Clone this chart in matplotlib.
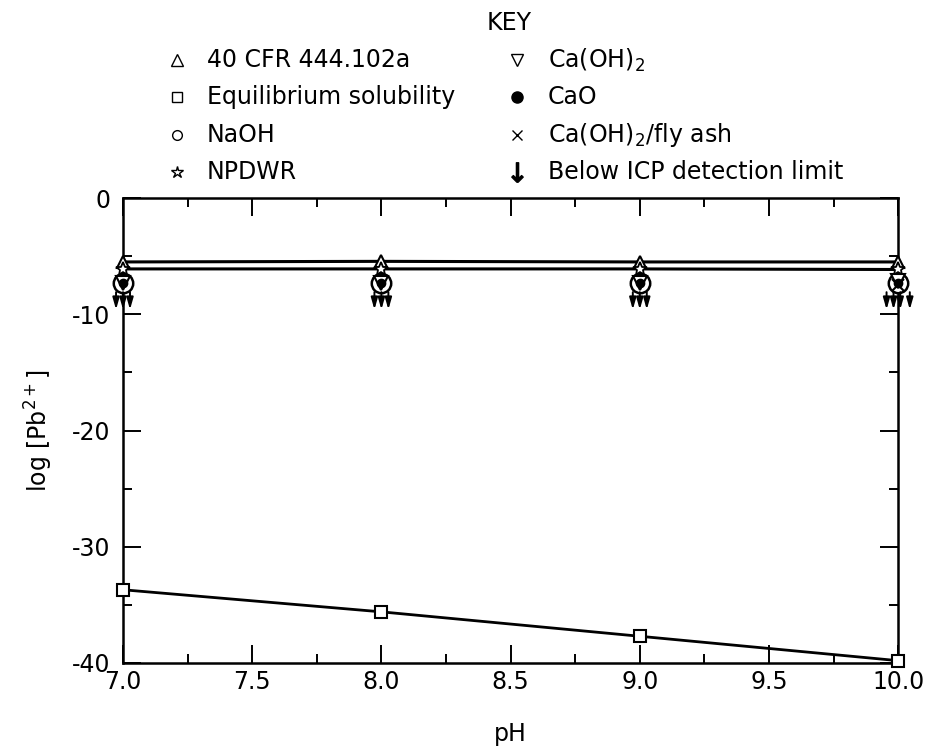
import matplotlib
matplotlib.use('Agg')
import matplotlib.pyplot as plt
import numpy as np

plt.rcParams['font.family'] = ['DejaVu Sans']
plt.rcParams['mathtext.fontset'] = 'dejavusans'

# data
ph = [7.0, 8.0, 9.0, 10.0]
cfr_limit = [-5.5, -5.45, -5.5, -5.5]        # 40 CFR 444.102a
npdwr = [-6.1, -6.1, -6.1, -6.15]             # NPDWR
equil_sol = [-33.7, -35.6, -37.7, -39.8]      # equilibrium solubility
naoh = [-7.3, -7.3, -7.3, -7.3]
caoh2 = [-7.3, -7.3, -7.3, -7.1]
cao = [-7.3, -7.3, -7.3, -7.3]
flyash_ph = [10.0]
flyash = [-7.5]
# below ICP detection limit arrows: one per treatment series
arrow_top = -8.1
arrow_bot = -9.6
arrow_offsets = {7.0: [-0.027, 0.0, 0.027],
                 8.0: [-0.027, 0.0, 0.027],
                 9.0: [-0.027, 0.0, 0.027],
                 10.0: [-0.045, -0.018, 0.008, 0.045]}

key_labels = ['40 CFR 444.102a', 'Equilibrium solubility', 'NaOH', 'NPDWR',
              'Ca(OH)$_2$', 'CaO', 'Ca(OH)$_2$/fly ash', 'Below ICP detection limit']
key_markers = ['^', 's', 'o', '*', 'v', 'o', 'x', r'$\downarrow$']
key_fill = ['white', 'white', 'white', 'white', 'white', 'black', 'black', 'black']
key_size = [8, 7, 7, 9, 8, 8, 7, 14]

fig = plt.figure(figsize=(9.25, 7.5), dpi=100)
ax = fig.add_axes([0.133, 0.116, 0.838, 0.620])

lw = 2.2
ax.plot(ph, equil_sol, color='black', lw=2.0, marker='s', ms=8, mfc='white',
        mew=1.5, clip_on=False, zorder=5)
ax.plot(ph, cfr_limit, color='black', lw=lw, zorder=3)
ax.plot(ph, npdwr, color='black', lw=lw, zorder=3)
ax.plot(ph, cfr_limit, ls='none', marker='^', ms=9, mfc='white', mec='black',
        mew=1.5, clip_on=False, zorder=6)
ax.plot(ph, npdwr, ls='none', marker='*', ms=10, mfc='white', mec='black',
        mew=1.3, clip_on=False, zorder=6)
ax.plot(ph, naoh, ls='none', marker='o', ms=14, mfc='white', mec='black',
        mew=1.8, clip_on=False, zorder=6)
ax.plot(ph, caoh2, ls='none', marker='v', ms=10, mfc='white', mec='black',
        mew=1.5, clip_on=False, zorder=7)
ax.plot(ph, cao, ls='none', marker='o', ms=6, mfc='black', mec='black',
        clip_on=False, zorder=8)
ax.plot(flyash_ph, flyash, ls='none', marker='x', ms=8, color='black',
        mew=1.5, clip_on=False, zorder=8)

for x0, offs in arrow_offsets.items():
    for d in offs:
        ax.annotate('', xy=(x0 + d, arrow_bot), xytext=(x0 + d, arrow_top),
                    arrowprops=dict(arrowstyle='-|>,head_length=0.7,head_width=0.2',
                                    color='black', lw=1.4, shrinkA=0, shrinkB=0),
                    annotation_clip=False, zorder=6)

ax.set_xlim(7.0, 10.0)
ax.set_ylim(-40, 0)
ax.set_xticks(np.arange(7.0, 10.01, 0.5))
ax.set_xticks(np.arange(7.25, 10.0, 0.5), minor=True)
ax.set_yticks(np.arange(-40, 1, 10))
ax.set_yticks(np.arange(-35, 0, 10), minor=True)
ax.set_xticklabels(['7.0', '7.5', '8.0', '8.5', '9.0', '9.5', '10.0'])
ax.set_yticklabels(['-40', '-30', '-20', '-10', '0'])
ax.tick_params(which='both', direction='in', top=True, right=True, width=1.4,
               labelsize=17)
ax.tick_params(which='major', length=13)
ax.tick_params(which='minor', length=6.5)
ax.tick_params(axis='x', pad=5)
ax.tick_params(axis='y', pad=9)
for s in ax.spines.values():
    s.set_linewidth(1.8)

ax.set_xlabel('pH', fontsize=17, labelpad=20)
ax.set_ylabel('log [Pb$^{2+}$]', fontsize=17, labelpad=12)

# key
fig.text(509 / 925, 1 - 23 / 750, 'KEY', fontsize=17, ha='center', va='center')
row_y = [60, 97, 135, 172]
col_mx = [177, 517]
col_tx = [207, 548]
for i, lab in enumerate(key_labels):
    c, r = divmod(i, 4)
    yy = 1 - row_y[r] / 750
    fig.lines.append(plt.Line2D([col_mx[c] / 925], [yy], transform=fig.transFigure,
                                ls='none', marker=key_markers[i], ms=key_size[i],
                                mfc=key_fill[i], mec='black', mew=1.0, color='black'))
    fig.text(col_tx[c] / 925, yy, lab, fontsize=17, ha='left', va='center')

fig.savefig('out.png', dpi=100)
